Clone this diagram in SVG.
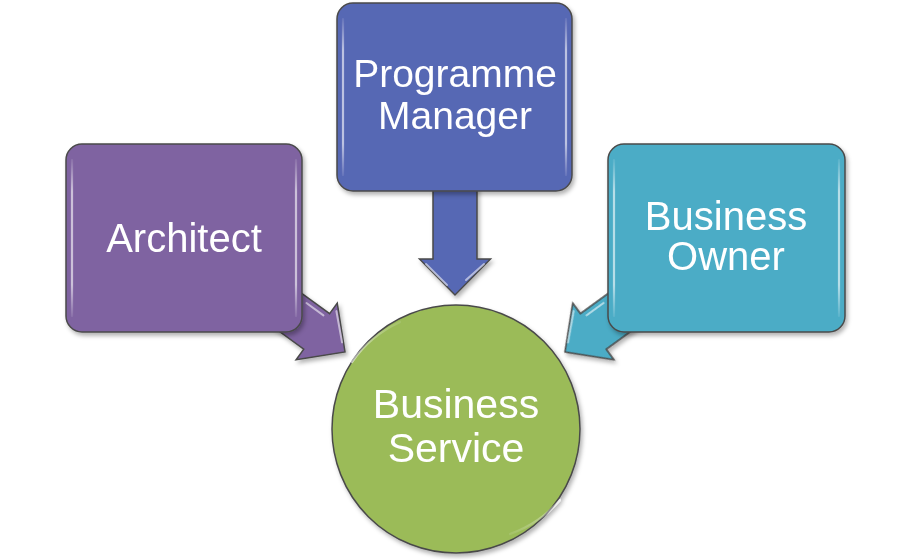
<svg xmlns="http://www.w3.org/2000/svg" width="912" height="560" viewBox="0 0 912 560">
<defs>
<style>
.outline{stroke:#4a4a4a;stroke-width:1.5;}
.lbl{font-family:"Liberation Sans",Arial,sans-serif;font-size:40px;fill:#ffffff;text-anchor:middle;}
.hl{fill:none;stroke:url(#hlv);stroke-width:2.2;stroke-linecap:round;}
.ahl{fill:none;stroke:#ffffff;stroke-opacity:0.55;stroke-width:2;stroke-linecap:round;}
</style>
<filter id="sh" x="-10%" y="-10%" width="125%" height="125%">
<feDropShadow dx="2" dy="3" stdDeviation="2" flood-color="#000" flood-opacity="0.3"/>
</filter>
<linearGradient id="hlv" x1="0" y1="0" x2="0" y2="1">
<stop offset="0" stop-color="#fff" stop-opacity="0.1"/>
<stop offset="0.2" stop-color="#fff" stop-opacity="0.6"/>
<stop offset="0.8" stop-color="#fff" stop-opacity="0.6"/>
<stop offset="1" stop-color="#fff" stop-opacity="0.1"/>
</linearGradient>
<polygon id="arr" points="-95,-22 -35,-22 -35,-35 0,0 -35,35 -35,22 -95,22"/>
</defs>

<g id="connectors" filter="url(#sh)">
<g transform="translate(345,352) rotate(36)">
<use href="#arr" fill="#7F63A1" class="outline"/>
<path class="ahl" d="M-60,-17 L-39,-17 M-31,-28 L-8,-6"/>
</g>
<polygon points="433,185 477,185 477,259 490.5,259 455,295 419.5,259 433,259" fill="#5767B4" class="outline"/>
<path class="ahl" d="M426,264 L447,285 M484,264 L466,280"/>
<g transform="translate(565,352) rotate(144)">
<use href="#arr" fill="#4BACC6" class="outline"/>
<path class="ahl" d="M-60,17 L-39,17 M-31,28 L-8,6"/>
</g>
</g>

<g id="architect" filter="url(#sh)">
<rect x="66" y="144" width="236" height="188" rx="16" fill="#7F63A1" class="outline"/>
<path class="hl" d="M72,160 L72,316 M296,160 L296,316"/>
<text class="lbl" x="184" y="252">Architect</text>
</g>

<g id="programme-manager" filter="url(#sh)">
<rect x="337" y="3" width="235" height="188" rx="16" fill="#5767B4" class="outline"/>
<path class="hl" d="M343,19 L343,175 M566,19 L566,175"/>
<text class="lbl" x="455" y="87" style="font-size:39px">Programme</text>
<text class="lbl" x="455" y="129" style="font-size:39px">Manager</text>
</g>

<g id="business-owner" filter="url(#sh)">
<rect x="608" y="144" width="237" height="188" rx="16" fill="#4BACC6" class="outline"/>
<path class="hl" d="M614,160 L614,316 M839,160 L839,316"/>
<text class="lbl" x="726" y="230">Business</text>
<text class="lbl" x="726" y="270">Owner</text>
</g>

<g id="business-service" filter="url(#sh)">
<circle cx="456" cy="429" r="124" fill="#9BBB59" class="outline"/>
<path class="hl" d="M352,362 A118,118 0 0 1 400,322 M560,500 A118,118 0 0 1 510,534" stroke="#fff"/>
<text class="lbl" x="456" y="418" style="font-size:41px">Business</text>
<text class="lbl" x="456" y="462" style="font-size:41px">Service</text>
</g>
</svg>
